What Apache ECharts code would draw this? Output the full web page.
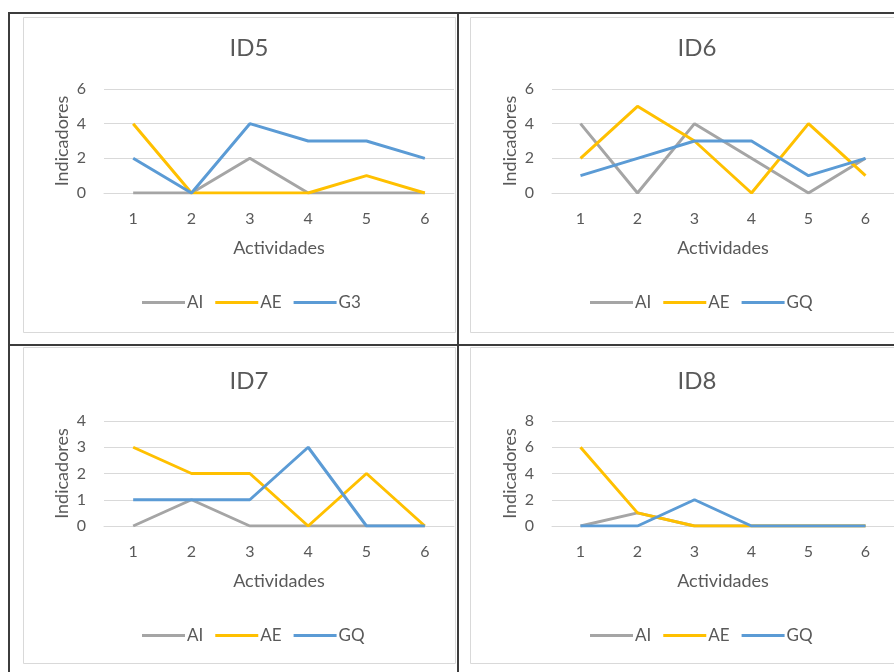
<!DOCTYPE html>
<html>
<head>
<meta charset="utf-8">
<style>
html,body{margin:0;padding:0;background:#fff;}
#c{width:894px;height:672px;}
</style>
<script src="https://cdn.jsdelivr.net/npm/echarts@6/dist/echarts.min.js"></script>
</head>
<body>
<div id="c"></div>
<script>
var categories = ['1','2','3','4','5','6'];
var titles = ['ID5','ID6','ID7','ID8'];
var seriesNames5 = ['AI','AE','G3'];
var seriesNames = ['AI','AE','GQ'];
var id5_AI = [0,0,2,0,0,0];
var id5_AE = [4,0,0,0,1,0];
var id5_G3 = [2,0,4,3,3,2];
var id6_AI = [4,0,4,2,0,2];
var id6_AE = [2,5,3,0,4,1];
var id6_GQ = [1,2,3,3,1,2];
var id7_AI = [0,1,0,0,0,0];
var id7_AE = [3,2,2,0,2,0];
var id7_GQ = [1,1,1,3,0,0];
var id8_AI = [0,1,0,0,0,0];
var id8_AE = [6,1,0,0,0,0];
var id8_GQ = [0,0,2,0,0,0];
var yMax = [6,6,4,8];
var yInterval = [2,2,1,2];
var xAxisName = 'Actividades';
var yAxisName = 'Indicadores';

var colors = ['#A5A5A5','#FFC000','#5B9BD5'];
var FONT = 'Lato';
var TXT = '#595959';
var GRIDC = '#D9D9D9';

var panels = [
  {names: seriesNames5, data: [id5_AI, id5_AE, id5_G3], gx: 104, gy: 89, gh: 104, tx: 249, ty: 36, lx: 142, ly: 294},
  {names: seriesNames, data: [id6_AI, id6_AE, id6_GQ], gx: 552, gy: 89, gh: 104, tx: 697, ty: 36, lx: 590, ly: 294},
  {names: seriesNames, data: [id7_AI, id7_AE, id7_GQ], gx: 104, gy: 421, gh: 105, tx: 249, ty: 369, lx: 142, ly: 627},
  {names: seriesNames, data: [id8_AI, id8_AE, id8_GQ], gx: 552, gy: 421, gh: 105, tx: 697, ty: 369, lx: 590, ly: 627}
];

var option = {
  animation: false,
  backgroundColor: '#fff',
  title: [], legend: [], grid: [], xAxis: [], yAxis: [], series: [],
  graphic: []
};

panels.forEach(function(p, i){
  option.title.push({
    text: titles[i], left: p.tx, top: p.ty, textAlign: 'center', padding: 0,
    textStyle: {fontFamily: FONT, fontSize: 24, fontWeight: 'normal', color: TXT}
  });
  option.legend.push({
    data: p.names, left: p.lx, top: p.ly, icon: 'rect', itemWidth: 43, itemHeight: 3,
    itemGap: 12, selectedMode: false, padding: 0,
    textStyle: {fontFamily: FONT, fontSize: 17, color: TXT, padding: [0,0,0,-3]}
  });
  option.grid.push({left: p.gx, top: p.gy, width: 350, height: p.gh, containLabel: false});
  option.xAxis.push({
    type: 'category', gridIndex: i, data: categories, boundaryGap: true,
    axisTick: {show: false},
    axisLine: {lineStyle: {color: GRIDC, width: 1}},
    axisLabel: {color: TXT, fontFamily: FONT, fontSize: 16, margin: 18},
    name: xAxisName, nameLocation: 'middle', nameGap: 46,
    nameTextStyle: {color: TXT, fontFamily: FONT, fontSize: 18}
  });
  option.yAxis.push({
    type: 'value', gridIndex: i, min: 0, max: yMax[i], interval: yInterval[i],
    axisLine: {show: false}, axisTick: {show: false},
    splitLine: {lineStyle: {color: GRIDC, width: 1}},
    axisLabel: {color: TXT, fontFamily: FONT, fontSize: 16, margin: 18},
    name: yAxisName, nameLocation: 'middle', nameGap: 33,
    nameTextStyle: {color: TXT, fontFamily: FONT, fontSize: 18}
  });
  p.names.forEach(function(n, k){
    option.series.push({
      type: 'line', name: n, xAxisIndex: i, yAxisIndex: i, data: p.data[k],
      symbol: 'none', color: colors[k],
      lineStyle: {width: 3, color: colors[k]}, z: 2 + k
    });
  });
});

// inner chart frames
var frames = [[23,17,432,315],[470,17,432,315],[23,347,432,316],[470,347,432,316]];
frames.forEach(function(f){
  option.graphic.push({type: 'rect', shape: {x: f[0]+0.5, y: f[1]+0.5, width: f[2], height: f[3]},
    style: {fill: null, stroke: GRIDC, lineWidth: 1}, z: 0, silent: true});
});
// table borders
var B = '#3C3C3C';
option.graphic.push({type:'line', shape:{x1:9,y1:13,x2:894,y2:13}, style:{stroke:B,lineWidth:2}, z:10});
option.graphic.push({type:'line', shape:{x1:9,y1:345,x2:894,y2:345}, style:{stroke:B,lineWidth:2}, z:10});
option.graphic.push({type:'line', shape:{x1:9,y1:12,x2:9,y2:672}, style:{stroke:B,lineWidth:2}, z:10});
option.graphic.push({type:'line', shape:{x1:458,y1:12,x2:458,y2:672}, style:{stroke:B,lineWidth:2}, z:10});

var chart = echarts.init(document.getElementById('c'), null, {renderer: 'canvas'});
chart.setOption(option);
</script>
</body>
</html>
